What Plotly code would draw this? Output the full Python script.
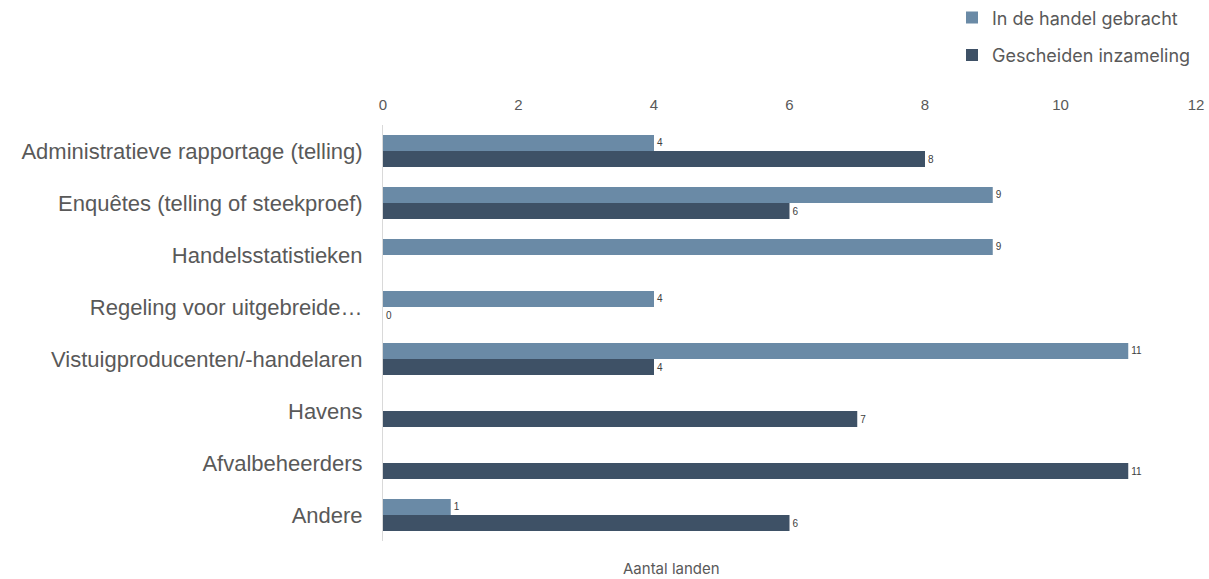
import plotly.graph_objects as go

categories = [
    "Administratieve rapportage (telling)",
    "Enquêtes (telling of steekproef)",
    "Handelsstatistieken",
    "Regeling voor uitgebreide…",
    "Vistuigproducenten/-handelaren",
    "Havens",
    "Afvalbeheerders",
    "Andere",
]
series_names = ["In de handel gebracht", "Gescheiden inzameling"]
in_de_handel = [4, 9, 9, 4, 11, None, None, 1]
gescheiden = [8, 6, None, 0, 4, 7, 11, 6]
x_ticks = [0, 2, 4, 6, 8, 10, 12]

colors = ["#6a8aa6", "#3e5166"]
narrow = "Liberation Sans Narrow, Arial Narrow, Liberation Sans, sans-serif"

fig = go.Figure()
for name, vals, col, grp in [
    (series_names[0], in_de_handel, colors[0], "a"),
    (series_names[1], gescheiden, colors[1], "b"),
]:
    fig.add_trace(go.Bar(
        y=categories, x=vals, orientation="h", name=name,
        marker=dict(color=col, line=dict(width=0)),
        text=[("" if v is None else str(v)) for v in vals],
        textposition="outside", cliponaxis=False,
        textfont=dict(family=narrow, size=10, color="#404040"),
        legendgroup=grp,
    ))

fig.update_layout(
    width=1209, height=579,
    paper_bgcolor="white", plot_bgcolor="white",
    barmode="group", bargap=0.38, bargroupgap=0,
    margin=dict(l=383, r=13, t=125, b=38, autoexpand=False),
    showlegend=True,
    legend=dict(
        x=1.0, xanchor="right", xref="paper",
        y=1.302, yanchor="top", yref="paper",
        font=dict(family="Inter, Noto Sans, sans-serif", size=18, color="#595959"),
        traceorder="grouped", tracegroupgap=11,
        itemwidth=30,
        bgcolor="rgba(0,0,0,0)",
    ),
    xaxis=dict(
        side="top", range=[0, 12], tickvals=x_ticks, showgrid=False, zeroline=False,
        showline=False, ticks="", automargin=False, ticklabelstandoff=11,
        ticklabeloverflow="allow",
        tickfont=dict(family=narrow, size=15, color="#595959"),
    ),
    yaxis=dict(
        autorange="reversed", showgrid=False, zeroline=False, automargin=False,
        showline=True, linecolor="#d9d9d9", linewidth=1, ticks="",
        ticklabelstandoff=15,
        tickfont=dict(family="Liberation Sans, Arial, sans-serif", size=22, color="#595959"),
    ),
    annotations=[dict(
        text="Aantal landen", xref="paper", yref="paper", x=0.355, y=-0.065,
        xanchor="center", yanchor="middle", showarrow=False,
        font=dict(family="Inter, Noto Sans, sans-serif", size=15, color="#595959"),
    )],
)

fig.write_html(
    "out.html",
    config={"displayModeBar": False},
    post_script="document.body.style.margin='0';document.body.style.overflow='hidden';",
)
